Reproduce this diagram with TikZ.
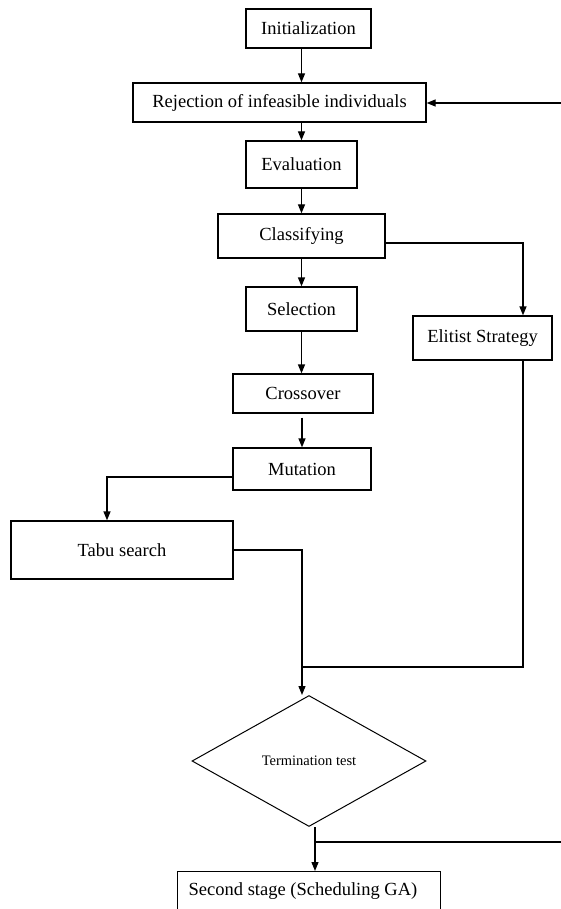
\documentclass[tikz,border=0pt]{standalone}
\usepackage{fontspec}
\setmainfont{Liberation Serif}
\usetikzlibrary{arrows.meta,shapes.geometric}
\begin{document}
\begin{tikzpicture}[x=1pt,y=-1pt,
  box/.style={draw, line width=1.3pt, rectangle, inner sep=0pt, font=\fontsize{18.5}{22}\selectfont},
  conn/.style={line width=1.3pt},
  arr/.style={conn, -{Triangle[length=9pt,width=7pt]}}]
\useasboundingbox (0,0) rectangle (561,909);
\clip (0,0) rectangle (561,909);
\fill[white] (0,0) rectangle (561,909);
\node[box, minimum width=125pt, minimum height=39pt] (init) at (308.5,28.5) {Initialization};
\node[box, minimum width=293pt, minimum height=39pt] (rej) at (279.5,102.5) {Rejection of infeasible individuals};
\node[box, minimum width=111pt, minimum height=47pt] (eval) at (301.5,164.5) {Evaluation};
\node[box, minimum width=167pt, minimum height=44pt] (class) at (301.5,236) {Classifying};
\node[box, minimum width=111pt, minimum height=44pt] (sel) at (301.5,309) {Selection};
\node[box, minimum width=140pt, minimum height=39pt] (cross) at (303,393.5) {Crossover};
\node[box, minimum width=138pt, minimum height=42pt] (mut) at (302,469) {Mutation};
\node[box, minimum width=222pt, minimum height=58pt] (tabu) at (122,550) {Tabu search};
\node[box, minimum width=139pt, minimum height=44pt] (elit) at (482.5,338) {Elitist Strategy};
\node[draw, line width=1pt, diamond, inner sep=0pt, minimum width=234pt, minimum height=131pt,
      font=\fontsize{14.5}{17}\selectfont] (term) at (309,761) {Termination test};
\node[box, minimum width=263pt, minimum height=42pt, anchor=north west] (second) at (177,871) {};
\node[font=\fontsize{18.5}{22}\selectfont] (secondtxt) at (303,891) {Second stage (Scheduling GA)};
\coordinate (join) at (302,667);
\coordinate (split) at (315,842);
\coordinate (rtA) at (566,103);
\coordinate (rtB) at (566,842);
% main chain
\draw[arr] (init.south -| eval.north) -- (rej.north -| eval.north);
\draw[arr] (rej.south -| eval.north) -- (eval.north);
\draw[arr] (eval.south) -- (class.north);
\draw[arr] (class.south) -- (sel.north);
\draw[arr] (sel.south) -- (sel.south |- cross.north);
\draw[arr, shorten <=4pt] (cross.south -| mut.north) -- (mut.north);
\draw[arr] ([yshift=-8pt]mut.west) -| ([xshift=-15pt]tabu.north);
\draw[arr] ([yshift=-7pt]class.east) -| ([xshift=40.5pt]elit.north);
\draw[conn] (tabu.east) -| (join);
\draw[conn] ([xshift=40.5pt]elit.south) |- (join);
\draw[arr] (join) -- (join |- term.north);
\draw[conn] (term.south -| split) -- (split);
\draw[arr] (split) -- (split |- second.north);
\draw[conn] (split) -- (rtB);
\draw[arr] (rtA) -- (rej.east |- rtA);
\end{tikzpicture}
\end{document}
